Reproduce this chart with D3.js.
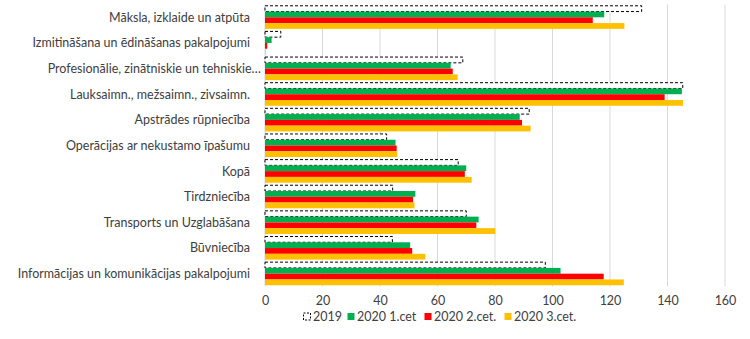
<!DOCTYPE html>
<html>
<head>
<meta charset="utf-8">
<script src="https://cdn.jsdelivr.net/npm/d3@7"></script>
<style>
  html, body { margin: 0; padding: 0; background: #fff; }
  svg { display: block; font-family: Lato, "Open Sans", sans-serif; }
</style>
</head>
<body>
<svg id="chart" width="750" height="339"></svg>
<script>
// Sectors, top to bottom
const categories = [
  "Māksla, izklaide un atpūta",
  "Izmitināšana un ēdināšanas pakalpojumi",
  "Profesionālie, zinātniskie un tehniskie…",
  "Lauksaimn., mežsaimn., zivsaimn.",
  "Apstrādes rūpniecība",
  "Operācijas ar nekustamo īpašumu",
  "Kopā",
  "Tirdzniecība",
  "Transports un Uzglabāšana",
  "Būvniecība",
  "Informācijas un komunikācijas pakalpojumi"
];

const seriesNames = ["2019", "2020 1.cet", "2020 2.cet.", "2020 3.cet."];

const values2019 = [131, 5.5, 68.8, 145.3, 91.9, 42.3, 67.2, 44.4, 70, 44.3, 97.5];
const values2020q1 = [118, 2.3, 64.6, 145, 88.6, 45.4, 70, 52.3, 74.3, 50.5, 102.8];
const values2020q2 = [114, 0.8, 65.3, 139, 89.4, 45.8, 69.5, 51.5, 73.5, 51.2, 117.8];
const values2020q3 = [125, 0.2, 67, 145.4, 92.4, 46, 71.9, 52, 80.1, 55.8, 124.8];

const xTicks = [0, 20, 40, 60, 80, 100, 120, 140, 160];

const seriesValues = [values2019, values2020q1, values2020q2, values2020q3];
const colors = ["#ffffff", "#00B050", "#FF0000", "#FFC000"];

const svg = d3.select("#chart");
const plotLeft = 265, plotRight = 725, plotTop = 4.5, plotBottom = 286.5;
const fontSize = 12.5;

const x = d3.scaleLinear().domain([0, 160]).range([plotLeft, plotRight]);
const y0 = d3.scaleBand().domain(categories).range([plotTop, plotBottom])
  .paddingInner(0.1).paddingOuter(0.05);
const y1 = d3.scaleBand().domain(seriesNames).range([0, y0.bandwidth()]);

// Vertical gridlines
svg.append("g").selectAll("line").data(xTicks).join("line")
  .attr("x1", d => x(d)).attr("x2", d => x(d))
  .attr("y1", plotTop).attr("y2", plotBottom)
  .attr("stroke", "#d9d9d9").attr("stroke-width", 1);

// Bars grouped by sector
const groups = svg.append("g").selectAll("g").data(categories).join("g")
  .attr("transform", d => `translate(0,${y0(d)})`);

groups.selectAll("rect")
  .data((c, i) => seriesNames.map((s, j) => ({ s, j, v: seriesValues[j][i] })))
  .join("rect")
  .attr("x", x(0))
  .attr("y", d => y1(d.s))
  .attr("width", d => x(d.v) - x(0))
  .attr("height", y1.bandwidth())
  .attr("fill", d => colors[d.j])
  .attr("stroke", d => d.j === 0 ? "#000" : "none")
  .attr("stroke-width", 1)
  .attr("stroke-dasharray", d => d.j === 0 ? "3,2" : null);

// Category labels
svg.append("g").selectAll("text").data(categories).join("text")
  .attr("x", d => d.endsWith("…") ? 261 : 250)
  .attr("y", d => y0(d) + y0.bandwidth() / 2)
  .attr("dy", "0.35em")
  .attr("text-anchor", "end")
  .attr("font-size", fontSize)
  .attr("fill", "#404040")
  .text(d => d);

// X axis tick labels
const xAxis = d3.axisBottom(x).tickValues(xTicks).tickSize(0).tickPadding(0);
const ax = svg.append("g").attr("transform", `translate(0,${plotBottom + 10})`).call(xAxis);
ax.select(".domain").remove();
ax.selectAll("text").attr("font-size", fontSize).attr("fill", "#404040")
  .attr("font-family", "Lato, 'Open Sans', sans-serif");

// Legend
const legendX = [303, 347, 424, 504];
const legend = svg.append("g").selectAll("g").data(seriesNames).join("g")
  .attr("transform", (d, i) => `translate(${legendX[i]},316.5)`);
legend.append("rect")
  .attr("x", 0.5).attr("y", -3.5).attr("width", 7).attr("height", 7)
  .attr("fill", (d, i) => colors[i])
  .attr("stroke", (d, i) => i === 0 ? "#000" : "none")
  .attr("stroke-dasharray", (d, i) => i === 0 ? "2,1.5" : null);
legend.append("text")
  .attr("x", 10).attr("dy", "0.35em")
  .attr("font-size", fontSize).attr("fill", "#404040")
  .text(d => d);
</script>
</body>
</html>
